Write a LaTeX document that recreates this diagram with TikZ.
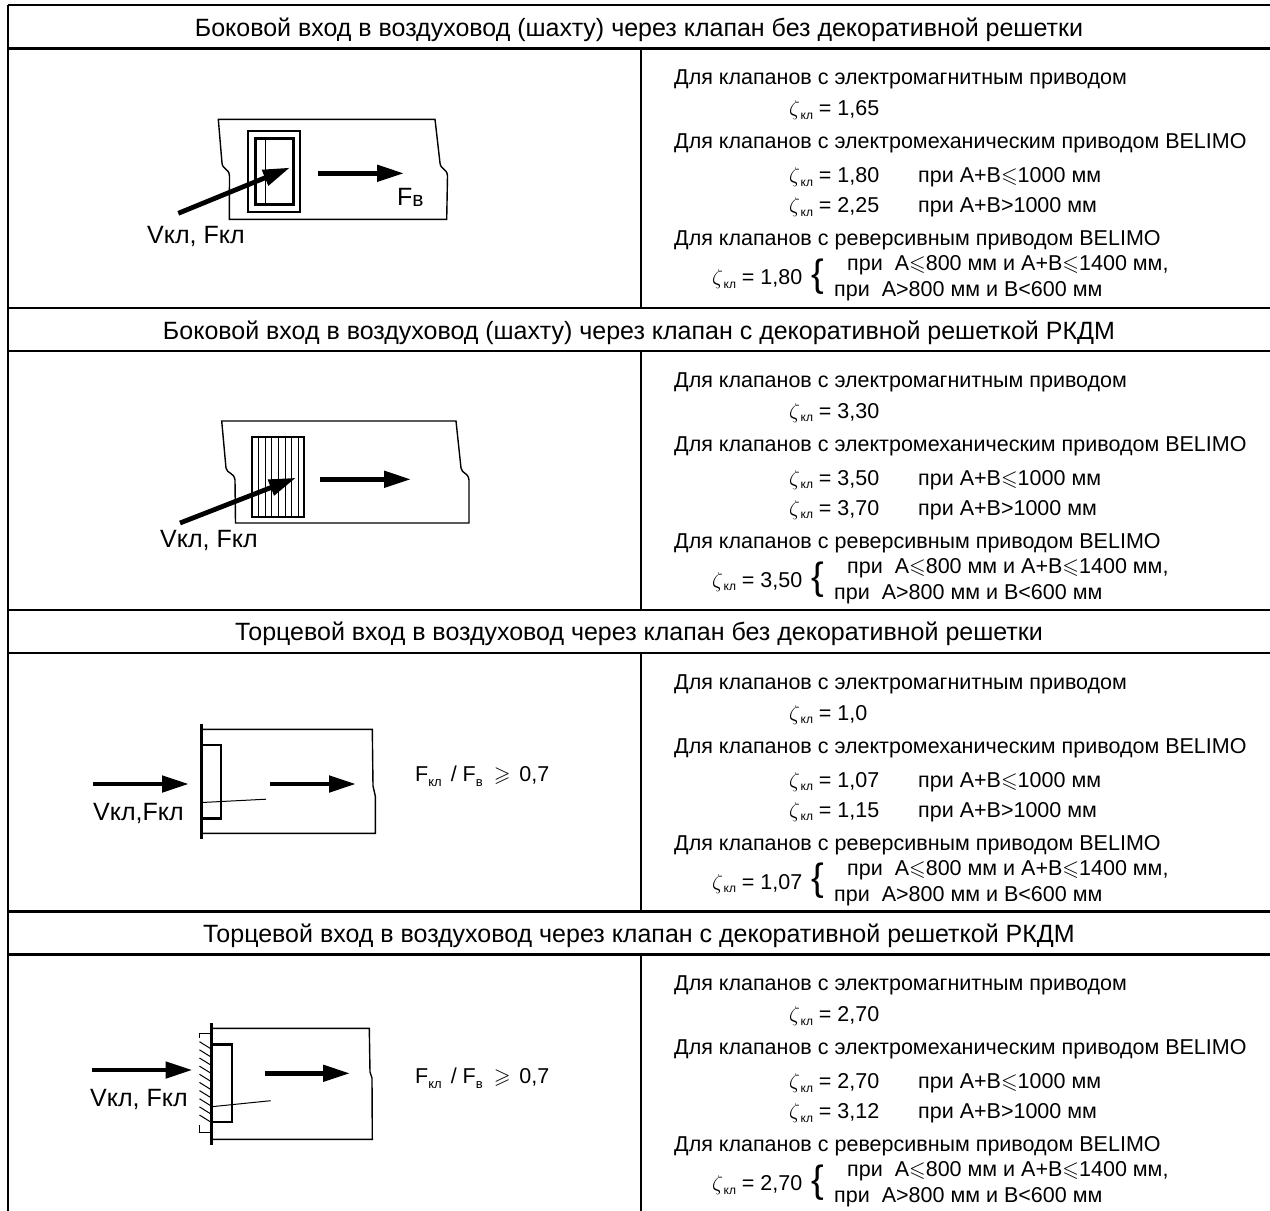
\RequirePackage{fix-cm}
\documentclass[tikz,border=0pt]{standalone}
\usepackage{amssymb}
\usepackage{fontspec}
\setmainfont{Liberation Sans}
\usetikzlibrary{arrows.meta}
\newcommand\zk{$\zeta$\kern0.6pt\raisebox{-0.3ex}{\fontsize{12}{12}\selectfont кл}}
\newcommand\lesl{$\leqslant$}
\newcommand\gesl{$\geqslant$}
\newcommand\sbs[1]{\raisebox{-5pt}{\fontsize{13}{13}\selectfont #1}}
\tikzset{
 body/.style={anchor=base west, inner sep=0pt, font=\fontsize{21.5}{24}\selectfont},
 brace/.style={anchor=base west, inner sep=0pt, font=\fontsize{38}{40}\selectfont},
 head/.style={anchor=base, inner sep=0pt, font=\fontsize{25}{28}\selectfont},
 lab/.style={anchor=base west, inner sep=0pt, font=\fontsize{25}{28}\selectfont},
 ratio/.style={anchor=base west, inner sep=0pt, font=\fontsize{21.5}{24}\selectfont},
 grid/.style={line width=2.4pt},
 duct/.style={line width=1.4pt},
 valve/.style={line width=2.4pt},
 thinl/.style={line width=1pt},
 flow/.style={line width=4.8pt, -{Triangle[length=27pt,width=16pt]}},
}
% #1 prefix, #2 T, #3..#6 values
\newcommand\sectext[6]{%
 \begin{scope}[shift={(0,#2)}]
 \node[body] (#1a) at (674,36.5) {Для клапанов с электромагнитным приводом};
 \node[body] (#1b) at (789,67.5) {\zk\ = #3};
 \node[body] (#1c) at (674,100.5) {Для клапанов с электромеханическим приводом BELIMO};
 \node[body] (#1d) at (789,134.5) {\zk\ = #4};
 \node[body] (#1e) at (918,134.5) {при A+B\lesl1000 мм};
 \node[body] (#1f) at (789,164.5) {\zk\ = #5};
 \node[body] (#1g) at (918,164.5) {при A+B>1000 мм};
 \node[body] (#1h) at (674,197.5) {Для клапанов с реверсивным приводом BELIMO};
 \node[body] (#1i) at (847,222.5) {при\ \ A\lesl800 мм и A+B\lesl1400 мм,};
 \node[body] (#1j) at (712,236.5) {\zk\ = #6};
 \node[brace] (#1k) at (811,238) {\{};
 \node[body] (#1l) at (834,248.5) {при\ \ A>800 мм и B<600 мм};
 \end{scope}}
\begin{document}
\begin{tikzpicture}[x=1pt,y=-1pt]
\useasboundingbox (0,0) rectangle (1270,1211);
% table frame
\draw[grid] (8,5) -- (1270,5);
\draw[grid] (8,5) -- (8,1211);
\foreach \t in {48.3,351,652.7,954.3,308,609.7,911.3} {\draw[grid] (8,\t) -- (1270,\t);}
\draw[grid] (641,48.3) -- (641,308) (641,351) -- (641,609.7) (641,652.7) -- (641,911.3) (641,954.3) -- (641,1211);
% headers
\node[head] (h1) at (639,36.3) {Боковой вход в воздуховод (шахту) через клапан без декоративной решетки};
\node[head] (h2) at (639,339) {Боковой вход в воздуховод (шахту) через клапан с декоративной решеткой РКДМ};
\node[head] (h3) at (639,640.7) {Торцевой вход в воздуховод через клапан без декоративной решетки};
\node[head] (h4) at (639,942.3) {Торцевой вход в воздуховод через клапан с декоративной решеткой РКДМ};
% texts
\sectext{sa}{48.3}{1,65}{1,80}{2,25}{1,80}
\sectext{sb}{351}{3,30}{3,50}{3,70}{3,50}
\sectext{sc}{652.7}{1,0}{1,07}{1,15}{1,07}
\sectext{sd}{954.3}{2,70}{2,70}{3,12}{2,70}
% ---------- drawing 1
\draw[duct] (229.3,219.3) -- (229.5,176) .. controls (229,168) and (222.7,170) .. (222,163) -- (218.3,119.3) -- (435,119.3) -- (440,163) .. controls (440.7,170) and (447,168) .. (447.5,176) -- (446.7,219.3) -- cycle;
\draw[line width=2.3pt] (247.7,131) rectangle (300,211.7);
\draw[line width=3.3pt] (255.3,138.3) rectangle (293.3,204.3);
\draw[thinl] (265.7,138.3) -- (265.7,204.3);
\coordinate (a1s) at (178.3,213.3); \coordinate (a1e) at (290,167.6);
\draw[flow] (a1s) -- (a1e);
\coordinate (b1s) at (318.3,173.3); \coordinate (b1e) at (404,173.3);
\draw[flow] (b1s) -- (b1e);
\node[lab] (fb1) at (397,205) {F\raisebox{-1.5pt}{\fontsize{21}{21}\selectfont в}};
\node[lab] (v1) at (147,243) {Vкл, Fкл};
% ---------- drawing 2
\draw[duct] (235.5,523) -- (235,480) .. controls (234,472) and (227,474) .. (226,468) -- (221.7,421) -- (456,421) -- (461,468) .. controls (462,474) and (468,472) .. (469,480) -- (469,523) -- cycle;
\draw[line width=2.3pt] (251.7,436.7) rectangle (304,517);
\foreach \x in {258.3,265,271.7,278.3,285,291.7,298.3} {\draw[thinl] (\x,436.7) -- (\x,517);}
\coordinate (a2s) at (180,523); \coordinate (a2e) at (296,477.8);
\draw[flow] (a2s) -- (a2e);
\coordinate (b2s) at (320,479.3); \coordinate (b2e) at (411,479.3);
\draw[flow] (b2s) -- (b2e);
\node[lab] (v2) at (160,547) {Vкл, Fкл};
% ---------- drawing 3
\draw[duct] (201.7,729.3) -- (372.3,729.3) -- (373,786) -- (375.3,796) -- (375.3,833.3) -- (201.7,833.3);
\draw[line width=2.7pt] (201.7,724.3) -- (201.7,839.3);
\draw[valve] (201.7,745) -- (221,745) -- (221,818.3) -- (201.7,818.3);
\draw[thinl] (201.7,802.5) -- (266,799.2);
\coordinate (a3s) at (93.3,784); \coordinate (a3e) at (189,784);
\draw[flow] (a3s) -- (a3e);
\coordinate (b3s) at (270,784); \coordinate (b3e) at (356,784);
\draw[flow] (b3s) -- (b3e);
\node[lab] (v3) at (93,820) {Vкл,Fкл};
\node[ratio] (r3) at (415,781) {F\sbs{кл}\hspace{9pt}/\hspace{6pt}F\sbs{в}\hspace{11pt}\gesl\hspace{9pt}0,7};
% ---------- drawing 4
\draw[duct] (211.7,1028.3) -- (369.3,1028.3) -- (370,1072) -- (372,1078) -- (372.3,1139.3) -- (211.7,1139.3);
\draw[line width=2.7pt] (211.7,1023.3) -- (211.7,1145);
\draw[valve] (211.7,1044.3) -- (231.7,1044.3) -- (231.7,1121.7) -- (211.7,1121.7);
\draw[thinl] (211.7,1106.7) -- (270.7,1100.7);
\foreach \i in {0,...,9} {\draw[thinl] (199.5,1041.7+8.15*\i) -- (210.3,1048.4+8.15*\i);}
\draw[thinl] (199.3,1038) -- (199.3,1033.3) -- (211.7,1033.3);
\draw[thinl] (199.3,1125) -- (199.3,1132.7) -- (211.7,1132.7);
\coordinate (a4s) at (91.7,1070); \coordinate (a4e) at (192.5,1070);
\draw[flow] (a4s) -- (a4e);
\coordinate (b4s) at (265,1073.3); \coordinate (b4e) at (350,1073.3);
\draw[flow] (b4s) -- (b4e);
\node[lab] (v4) at (90,1106.7) {Vкл, Fкл};
\node[ratio] (r4) at (415,1083) {F\sbs{кл}\hspace{9pt}/\hspace{6pt}F\sbs{в}\hspace{11pt}\gesl\hspace{9pt}0,7};
\end{tikzpicture}
\end{document}
